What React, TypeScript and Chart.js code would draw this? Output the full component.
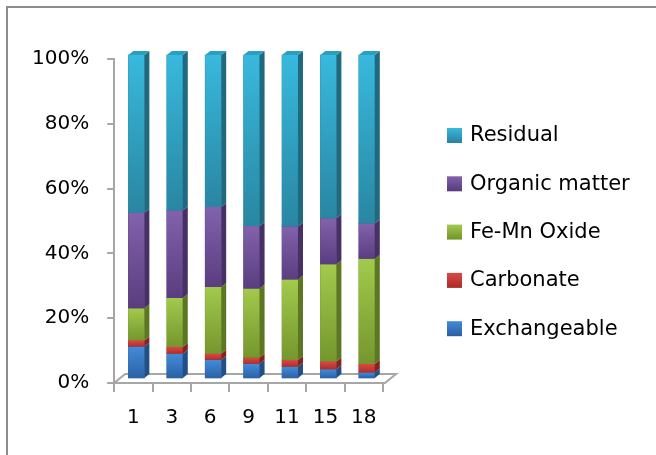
import React, { useEffect, useRef } from 'react';
import { Chart, registerables } from 'chart.js';
Chart.register(...registerables);

const categories = ['1', '3', '6', '9', '11', '15', '18'];
const exchangeable = [10.0, 7.8, 5.9, 4.7, 3.8, 3.0, 2.0];
const carbonate = [1.9, 2.1, 1.9, 1.9, 2.1, 2.4, 2.6];
const feMnOxide = [9.9, 15.1, 20.6, 21.3, 24.8, 30.0, 32.5];
const organicMatter = [29.5, 27.0, 24.7, 19.3, 16.4, 14.2, 10.9];
const residual = [48.7, 48.0, 46.9, 52.8, 52.9, 50.4, 52.0];
const seriesNames = ['Exchangeable', 'Carbonate', 'Fe-Mn Oxide', 'Organic matter', 'Residual'];
const yTickValues = [0, 20, 40, 60, 80, 100];

// [top, bottom, side]
const palette = [
  ['#438bd8', '#2b62a6', '#224f86'],
  ['#dc4844', '#ad2e2b', '#862321'],
  ['#a2ca4c', '#75962d', '#5c7722'],
  ['#8262ac', '#5a3d7f', '#463066'],
  ['#38b9dd', '#2986a2', '#1f6a80'],
];

const FONT = 'DejaVu Sans';
const DX = 3, DY = -4, SD = 5, SH = 4;

const threeD = {
  id: 'threeD',
  beforeDatasetsDraw(chart: any) {
    const { ctx, chartArea } = chart;
    const l = chartArea.left, r = chartArea.right + 2, b = chartArea.bottom;
    ctx.save();
    ctx.beginPath();
    ctx.moveTo(l, b);
    ctx.lineTo(r, b);
    ctx.lineTo(r + 11, b - 9);
    ctx.lineTo(l + 11, b - 9);
    ctx.closePath();
    ctx.fillStyle = '#ffffff';
    ctx.fill();
    ctx.strokeStyle = '#a6a6a6';
    ctx.lineWidth = 2;
    ctx.stroke();
    ctx.restore();
    ctx.save();
    ctx.translate(DX, DY);
  },
  afterDatasetsDraw(chart: any) {
    const { ctx } = chart;
    ctx.restore();
    const n = chart.data.datasets.length;
    for (let d = 0; d < n; d++) {
      const meta = chart.getDatasetMeta(d);
      const [cTop, cBot, cSide] = palette[d];
      meta.data.forEach((el: any) => {
        const p = el.getProps(['x', 'y', 'base', 'width'], true);
        const left = p.x - p.width / 2 + DX;
        const right = p.x + p.width / 2 + DX;
        const top = Math.min(p.y, p.base) + DY;
        const bottom = Math.max(p.y, p.base) + DY;
        const g = ctx.createLinearGradient(0, top, 0, bottom);
        g.addColorStop(0, cTop);
        g.addColorStop(1, cBot);
        ctx.fillStyle = g;
        ctx.fillRect(left, top, right - left, bottom - top);
        ctx.beginPath();
        ctx.moveTo(right, top);
        ctx.lineTo(right + SD, top - SH);
        ctx.lineTo(right + SD, bottom - SH);
        ctx.lineTo(right, bottom);
        ctx.closePath();
        ctx.fillStyle = cSide;
        ctx.fill();
        if (d === n - 1) {
          ctx.beginPath();
          ctx.moveTo(left, top);
          ctx.lineTo(left + SD, top - SH);
          ctx.lineTo(right + SD, top - SH);
          ctx.lineTo(right, top);
          ctx.closePath();
          ctx.fillStyle = '#2a9fc2';
          ctx.fill();
        }
      });
    }
  },
  afterDraw(chart: any) {
    const { ctx, width, height } = chart;
    ctx.save();
    ctx.strokeStyle = '#8c8c8c';
    ctx.lineWidth = 2;
    ctx.beginPath();
    ctx.moveTo(width, 7);
    ctx.lineTo(7, 7);
    ctx.lineTo(7, height);
    ctx.stroke();
    // legend
    const n = chart.data.datasets.length;
    ctx.font = `21px "${FONT}"`;
    ctx.textBaseline = 'middle';
    ctx.textAlign = 'left';
    for (let i = 0; i < n; i++) {
      const d = n - 1 - i;
      const cy = 135 + i * 48.3;
      const [cTop, cBot] = palette[d];
      const g = ctx.createLinearGradient(0, cy - 7, 0, cy + 7);
      g.addColorStop(0, cTop);
      g.addColorStop(1, cBot);
      ctx.fillStyle = g;
      ctx.fillRect(447, cy - 7, 15, 15);
      ctx.fillStyle = '#000';
      ctx.fillText(chart.data.datasets[d].label, 470, cy + 1);
    }
    ctx.restore();
  },
};

export default function App() {
  const ref = useRef<HTMLCanvasElement>(null);
  useEffect(() => {
    document.body.style.margin = '0';
    const values = [exchangeable, carbonate, feMnOxide, organicMatter, residual];
    const chart = new Chart(ref.current as HTMLCanvasElement, {
      type: 'bar',
      data: {
        labels: categories,
        datasets: values.map((v, i) => ({
          label: seriesNames[i],
          data: v,
          backgroundColor: palette[i][1],
          borderWidth: 0,
          barThickness: 16,
          clip: false as any,
        })),
      },
      options: {
        responsive: false,
        animation: false,
        layout: { padding: { left: 14, top: 59, right: 273, bottom: 11 } },
        plugins: { legend: { display: false }, tooltip: { enabled: false } },
        scales: {
          x: {
            stacked: true,
            grid: { drawOnChartArea: false, drawTicks: true, tickLength: 9, color: '#a6a6a6', lineWidth: 2, offset: true },
            border: { display: false },
            ticks: { color: '#000', font: { family: FONT, size: 20 }, padding: 14 },
          },
          y: {
            stacked: true,
            min: 0,
            max: 100,
            afterBuildTicks: (axis: any) => {
              axis.ticks = yTickValues.map((v) => ({ value: v }));
            },
            grid: { drawOnChartArea: false, drawTicks: true, tickLength: 7, color: '#a6a6a6', lineWidth: 2 },
            border: { display: true, color: '#a6a6a6', width: 2 },
            ticks: { color: '#000', font: { family: FONT, size: 20 }, padding: 18, callback: (v: any) => v + '%' },
          },
        },
      },
      plugins: [threeD],
    });
    return () => chart.destroy();
  }, []);
  return <canvas ref={ref} width={656} height={455} />;
}
